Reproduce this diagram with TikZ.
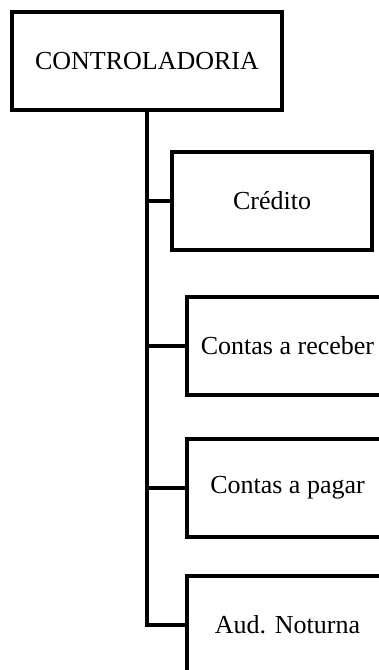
\documentclass[tikz,border=0pt]{standalone}
\usepackage{fontspec}
\setmainfont{Liberation Serif}
\usepackage{tikz}
\usetikzlibrary{positioning}

\begin{document}
\begin{tikzpicture}[x=0.5pt,y=-0.5pt,
		caixa/.style={draw,line width=2.25pt,minimum height=49pt,inner sep=0pt,font=\fontsize{13}{15}\selectfont},
		galho/.style={line width=2.25pt,line join=miter}]
			\useasboundingbox (0,0) rectangle (379,670);
			\node[caixa,minimum width=135pt] (ctrl) at (147,61) {CONTROLADORIA};
			\node[caixa,minimum width=100pt] (credito) at (272,201) {Crédito};
			\node[caixa,minimum width=100.5pt] (receber) at (287.5,346) {Contas a receber};
			\node[caixa,minimum width=100.5pt] (pagar) at (287.5,488) {Contas a pagar};
			\node[caixa,minimum width=100.5pt] (noturna) at (287.5,625) {Aud. Noturna};
			
			\draw[galho] (ctrl.south) |- (noturna.west);
			\draw[galho] (ctrl.south) |- (credito.west);
			\draw[galho] (ctrl.south) |- (receber.west);
			\draw[galho] (ctrl.south) |- (pagar.west);
		\end{tikzpicture}
\end{document}
